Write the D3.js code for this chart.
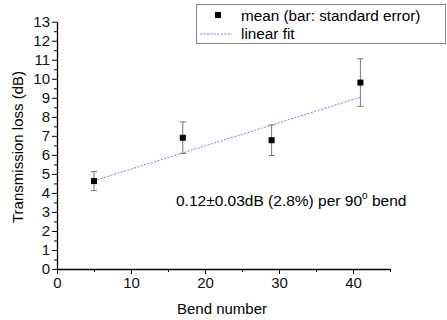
<!DOCTYPE html>
<html>
<head>
<meta charset="utf-8">
<script src="https://cdn.jsdelivr.net/npm/d3@7"></script>
<style>
  body { margin: 0; background: #fff; }
  svg { font-family: Arial, "Liberation Sans", sans-serif; }
</style>
</head>
<body>
<div id="chart"></div>
<script>
// data
var bendNumber = [5, 17, 29, 41];
var meanLoss   = [4.62, 6.90, 6.77, 9.80];
var stdError   = [0.50, 0.83, 0.80, 1.25];
var fitX = [5, 41];
var fitY = [4.64, 9.03];
var xTicks = [0, 10, 20, 30, 40];
var yTicks = d3.range(0, 14);

var width = 447, height = 320;
var margin = {left: 57, right: 57, top: 22, bottom: 51};

var svg = d3.select("#chart").append("svg")
    .attr("width", width)
    .attr("height", height);

var x = d3.scaleLinear().domain([0, 45]).range([margin.left, 390]);
var y = d3.scaleLinear().domain([0, 13]).range([269, 21.7]);

// minor ticks
svg.append("g")
    .attr("transform", "translate(0,269)")
    .call(d3.axisBottom(x).tickValues([5, 15, 25, 35, 45]).tickSize(3).tickFormat(""))
    .call(function (g) { g.select(".domain").remove(); });
svg.append("g")
    .attr("transform", "translate(" + margin.left + ",0)")
    .call(d3.axisLeft(y).tickValues(d3.range(0.5, 13, 1)).tickSize(3).tickFormat(""))
    .call(function (g) { g.select(".domain").remove(); });

// major axes
var xAxis = svg.append("g")
    .attr("transform", "translate(0,269)")
    .call(d3.axisBottom(x).tickValues(xTicks).tickSize(5).tickSizeOuter(0).tickPadding(3));
var yAxis = svg.append("g")
    .attr("transform", "translate(" + margin.left + ",0)")
    .call(d3.axisLeft(y).tickValues(yTicks).tickSize(5).tickSizeOuter(0).tickPadding(2));

svg.selectAll(".tick text")
    .style("font-size", "15px")
    .style("font-family", "Arial, 'Liberation Sans', sans-serif")
    .attr("fill", "#111");
svg.selectAll(".domain").attr("stroke-width", 1.3);

// axis titles
svg.append("text")
    .attr("x", 222)
    .attr("y", 314)
    .attr("text-anchor", "middle")
    .style("font-size", "15px")
    .text("Bend number");

svg.append("text")
    .attr("transform", "translate(23,147) rotate(-90)")
    .attr("text-anchor", "middle")
    .style("font-size", "15px")
    .text("Transmission loss (dB)");

// linear fit
var fitData = fitX.map(function (d, i) { return [d, fitY[i]]; });
svg.append("path")
    .datum(fitData)
    .attr("fill", "none")
    .attr("stroke", "#7b7bea")
    .attr("stroke-width", 1)
    .attr("stroke-dasharray", "2,1.5")
    .attr("d", d3.line().x(function (d) { return x(d[0]); }).y(function (d) { return y(d[1]); }));

// error bars
var pts = bendNumber.map(function (d, i) { return {x: d, m: meanLoss[i], se: stdError[i]}; });
var eb = svg.append("g").attr("stroke", "#777").attr("stroke-width", 1);
eb.selectAll("line.v").data(pts).join("line").attr("class", "v")
    .attr("x1", function (d) { return x(d.x); })
    .attr("x2", function (d) { return x(d.x); })
    .attr("y1", function (d) { return y(d.m - d.se); })
    .attr("y2", function (d) { return y(d.m + d.se); });
eb.selectAll("line.t").data(pts).join("line").attr("class", "t")
    .attr("x1", function (d) { return x(d.x) - 3; })
    .attr("x2", function (d) { return x(d.x) + 3; })
    .attr("y1", function (d) { return y(d.m + d.se); })
    .attr("y2", function (d) { return y(d.m + d.se); });
eb.selectAll("line.b").data(pts).join("line").attr("class", "b")
    .attr("x1", function (d) { return x(d.x) - 3; })
    .attr("x2", function (d) { return x(d.x) + 3; })
    .attr("y1", function (d) { return y(d.m - d.se); })
    .attr("y2", function (d) { return y(d.m - d.se); });

// mean markers
svg.selectAll("rect.pt").data(pts).join("rect").attr("class", "pt")
    .attr("x", function (d) { return x(d.x) - 3; })
    .attr("y", function (d) { return y(d.m) - 3; })
    .attr("width", 6)
    .attr("height", 6)
    .attr("fill", "#000");

// annotation
var ann = svg.append("text")
    .attr("x", 176)
    .attr("y", 206)
    .style("font-size", "15.5px");
ann.append("tspan").text("0.12\u00b10.03dB (2.8%) per 90");
ann.append("tspan").attr("dy", -7).style("font-size", "10px").text("o");
ann.append("tspan").attr("dy", 7).text(" bend");

// legend
var legend = svg.append("g");
legend.append("rect")
    .attr("x", 196.5)
    .attr("y", 4.5)
    .attr("width", 249)
    .attr("height", 39)
    .attr("fill", "#fff")
    .attr("stroke", "#888")
    .attr("stroke-width", 1);
legend.append("rect")
    .attr("x", 215)
    .attr("y", 12)
    .attr("width", 6)
    .attr("height", 6)
    .attr("fill", "#000");
legend.append("text")
    .attr("x", 241)
    .attr("y", 21)
    .style("font-size", "15.3px")
    .text("mean (bar: standard error)");
legend.append("line")
    .attr("x1", 200).attr("x2", 232)
    .attr("y1", 34).attr("y2", 34)
    .attr("stroke", "#7b7bea")
    .attr("stroke-width", 1)
    .attr("stroke-dasharray", "2,1.5");
legend.append("text")
    .attr("x", 241)
    .attr("y", 39)
    .style("font-size", "15.3px")
    .text("linear fit");
</script>
</body>
</html>
